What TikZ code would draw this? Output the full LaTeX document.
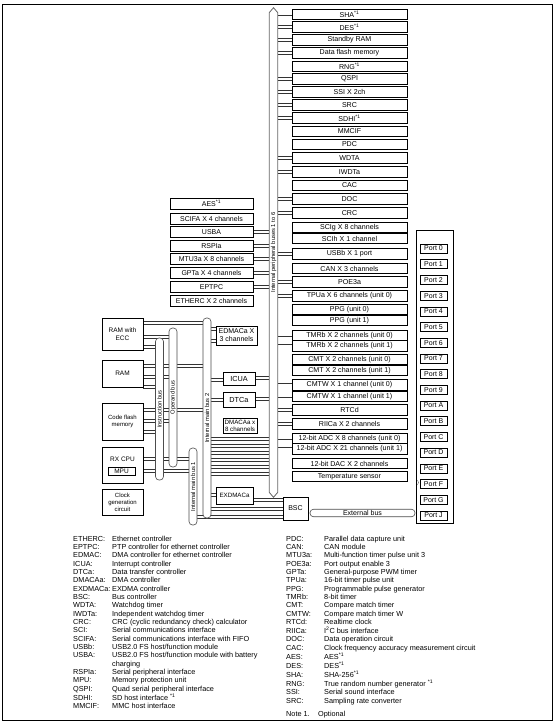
\documentclass[tikz,border=0pt]{standalone}
\usepackage{fontspec}
\setmainfont{Liberation Sans}
\usetikzlibrary{positioning,calc}
\pgfdeclarelayer{background}
\pgfdeclarelayer{busfill}
\pgfsetlayers{background,busfill,main}
\newcommand{\optmark}{\textsuperscript{*1}}

\begin{document}
\begin{tikzpicture}[x=1pt, y=-1pt,
  unit/.style={draw, fill=white, line width=0.6pt, inner sep=0.5pt, minimum width=115pt, minimum height=10.5pt, font=\fontsize{7.1}{8}\selectfont},
  mem/.style={draw, fill=white, line width=0.6pt, inner sep=1pt, align=center, minimum width=41pt, font=\fontsize{6.5}{7.5}\selectfont},
  ctl/.style={draw, fill=white, line width=0.6pt, inner sep=0.5pt, align=center, font=\fontsize{7}{8}\selectfont},
  port/.style={draw, fill=white, line width=0.6pt, inner sep=0pt, minimum width=27pt, minimum height=9pt, font=\fontsize{7}{8}\selectfont},
  bus/.style={draw=black!70, fill=white, line width=0.6pt, rounded corners=3.5pt, minimum width=8pt, inner sep=0pt, font=\fontsize{5.8}{6}\selectfont},
  link/.style={draw=black!80, line width=0.45pt, double=white, double distance=2.2pt},
  tube/.style={link, double distance=5pt, line cap=round},
  legend/.style={inner sep=0pt, anchor=north west, font=\fontsize{7.3}{8.33}\selectfont}]

\useasboundingbox (0,0) rectangle (554,726);
\draw[line width=1pt] (2,4) rectangle (552,720);

% buses
\node[bus, draw=none, fill=none, rounded corners=0pt, minimum height=479pt] (pbus) at (273.5,252.5) {\rotatebox{90}{Internal peripheral buses 1 to 6}};
\begin{pgfonlayer}{busfill}
\filldraw[draw=black!60, fill=white, line width=0.8pt] (pbus.north west) -- ([yshift=5pt]pbus.north) -- (pbus.north east) -- (pbus.south east) -- ([yshift=-5pt]pbus.south) -- (pbus.south west) -- cycle;
\end{pgfonlayer}
\node[bus, minimum height=142pt] (ibus) at (159.5,409) {\rotatebox{90}{Instruction bus}};
\node[bus, minimum height=139pt] (obus) at (173,397.5) {\rotatebox{90}{Operand bus}};
\node[bus, minimum height=200pt] (mbus2) at (207,418) {\rotatebox{90}{Internal main bus 2}};
\node[bus, minimum height=77pt] (mbus1) at (193,486.5) {\rotatebox{90}{Internal main bus 1}};

% memories and CPU
\node[mem, minimum height=32pt] (ramecc) at (122.5,334) {RAM with\\ECC};
\node[mem, minimum height=27pt] (ram) at (122.5,373.5) {RAM};
\node[mem, minimum height=37pt, font=\fontsize{6}{7}\selectfont] (flash) at (122.5,421.5) {Code flash\\memory};
\node[mem, minimum height=36pt] (cpu) at (122.5,465) {RX CPU\\[3pt]\phantom{MPU}};
\node[ctl, minimum width=27pt, minimum height=7.5pt, inner sep=0pt, font=\fontsize{6.5}{7}\selectfont] (mpu) at (121.5,471.5) {MPU};
\node[mem, minimum height=26pt, font=\fontsize{6}{7}\selectfont] (clk) at (122.5,502) {Clock\\generation\\circuit};

% controllers
\node[ctl, minimum width=41pt, minimum height=19pt] (edmac) at (236.5,335.5) {EDMACa X\\3 channels};
\node[ctl, minimum width=32pt, minimum height=13pt, font=\fontsize{7.3}{8}\selectfont] (icua) at (239,378.5) {ICUA};
\node[ctl, minimum width=32pt, minimum height=15pt, font=\fontsize{7.3}{8}\selectfont] (dtc) at (239,399.5) {DTCa};
\node[ctl, minimum width=34pt, minimum height=15pt, font=\fontsize{6.2}{7}\selectfont] (dmac) at (240,425.5) {DMACAa x\\8 channels};
\node[ctl, minimum width=37pt, minimum height=17pt, font=\fontsize{6.2}{7}\selectfont] (exdmac) at (234.5,495.5) {EXDMACa};
\node[ctl, minimum width=25pt, minimum height=23pt] (bsc) at (295.5,508.5) {BSC};

% ports
\node[draw, line width=0.6pt, minimum width=37pt, minimum height=293pt] (ports) at (434.5,376.5) {};
\foreach \i/\lbl in {0/0,1/1,2/2,3/3,4/4,5/5,6/6,7/7,8/8,9/9,10/A,11/B,12/C,13/D,14/E,15/F,16/G,17/J}
  \node[port] (port\lbl) at (433.5,{248.5+15.7*\i}) {Port \lbl};
\node[bus, minimum width=105pt, minimum height=7.5pt, font=\fontsize{7}{7}\selectfont] (ext) at (362.5,513) {External bus};

% peripherals on the right of the peripheral bus
\foreach \nm/\yy/\txt in {sha/14.3/{SHA\optmark}, des/27/{DES\optmark}, sram/40/Standby RAM, dflash/53/Data flash memory,
    rng/66.5/{RNG\optmark}, qspi/79/QSPI, ssi/92/SSI X 2ch, src/105/SRC, sdhi/118/{SDHI\optmark}, mmcif/131.5/MMCIF,
    pdc/144.5/PDC, wdta/158/WDTA, iwdt/172/IWDTa, cac/185.5/CAC, doc/199/DOC, crc/213/CRC,
    scig/227.5/SCIg X 8 channels, scih/238.5/SCIh X 1 channel, usbb/254/USBb X 1 port, can/268.5/CAN X 3 channels,
    poe/282/POE3a, tpu/296/TPUa X 6 channels (unit 0), ppga/309.5/PPG (unit 0), ppgb/320.5/PPG (unit 1),
    tmra/335.25/TMRb X 2 channels (unit 0), tmrb/345.75/TMRb X 2 channels (unit 1),
    cmta/359.5/CMT X 2 channels (unit 0), cmtb/370.5/CMT X 2 channels (unit 1),
    cmtwa/384.75/CMTW X 1 channel (unit 0), cmtwb/396.25/CMTW X 1 channel (unit 1),
    rtc/410/RTCd, riic/424/RIICa X 2 channels, adca/438.25/12-bit ADC X 8 channels (unit 0),
    adcb/448.75/12-bit ADC X 21 channels (unit 1), dac/463.5/12-bit DAC X 2 channels, temp/476.5/Temperature sensor}{
  \node[unit] (\nm) at (349.5,\yy) {\txt};
  \begin{pgfonlayer}{background}
  \draw[link] (pbus.east |- \nm.west) -- (\nm.west);
  \end{pgfonlayer}
}

% peripherals on the left of the peripheral bus
\foreach \nm/\yy/\txt in {aes/203.5/{AES\optmark}, scifa/218.5/SCIFA X 4 channels, usba/232/USBA, rspi/246/RSPIa,
    mtu/259/MTU3a X 8 channels, gpt/273/GPTa X 4 channels, eptpc/287/EPTPC, etherc/300.5/ETHERC X 2 channels}{
  \node[unit, minimum width=83pt, minimum height=11pt, font=\fontsize{7}{8}\selectfont] (\nm) at (211.5,\yy) {\txt};
  \begin{pgfonlayer}{background}
  \draw[link] (\nm.east) -- (\nm.east -| pbus.west);
  \end{pgfonlayer}
}

\begin{pgfonlayer}{background}
\foreach \src/\dst/\yy in {ramecc/mbus2/323, ramecc/obus/337, ramecc/ibus/347, ram/mbus2/366, ram/obus/377, ram/ibus/387,
    flash/mbus2/410, flash/obus/421, flash/ibus/432, cpu/obus/459, cpu/ibus/471, obus/mbus1/459, ibus/mbus1/471,
    mbus2/edmac/329, mbus2/edmac/341, edmac/pbus/335.5, mbus2/icua/380, icua/pbus/378, mbus2/dtc/400, dtc/pbus/399,
    mbus2/dmac/425.5, dmac/pbus/425.5, mbus2/pbus/439, mbus2/pbus/446, mbus2/pbus/453, mbus2/pbus/460,
    mbus2/pbus/467, mbus2/pbus/474, mbus2/exdmac/495, exdmac/bsc/500, mbus2/bsc/509, mbus1/bsc/517}{
  \coordinate (lvl) at (0,\yy);
  \draw[link] (\src.east |- lvl) -- (\dst.west |- lvl);
}
\coordinate (lvl) at (0,482.5);
\draw[tube] (mbus2.east |- lvl) -- (ports.west |- lvl);
\end{pgfonlayer}

% legend
\node[legend] (legleft) at (73,535.2) {\begin{tabular}{@{}p{39pt}@{}l@{}}
ETHERC: & Ethernet controller\\
EPTPC: & PTP controller for ethernet controller\\
EDMAC: & DMA controller for ethernet controller\\
ICUA: & Interrupt controller\\
DTCa: & Data transfer controller\\
DMACAa: & DMA controller\\
EXDMACa: & EXDMA controller\\
BSC: & Bus controller\\
WDTA: & Watchdog timer\\
IWDTa: & Independent watchdog timer\\
CRC: & CRC (cyclic redundancy check) calculator\\
SCI: & Serial communications interface\\
SCIFA: & Serial communications interface with FIFO\\
USBb: & USB2.0 FS host/function module\\
USBA: & USB2.0 FS host/function module with battery\\
 & charging\\
RSPIa: & Serial peripheral interface\\
MPU: & Memory protection unit\\
QSPI: & Quad serial peripheral interface\\
SDHI: & SD host interface \optmark\\
MMCIF: & MMC host interface
\end{tabular}};
\node[legend] (legright) at (286,535.2) {\begin{tabular}{@{}p{38pt}@{}l@{}}
PDC: & Parallel data capture unit\\
CAN: & CAN module\\
MTU3a: & Multi-function timer pulse unit 3\\
POE3a: & Port output enable 3\\
GPTa: & General-purpose PWM timer\\
TPUa: & 16-bit timer pulse unit\\
PPG: & Programmable pulse generator\\
TMRb: & 8-bit timer\\
CMT: & Compare match timer\\
CMTW: & Compare match timer W\\
RTCd: & Realtime clock\\
RIICa: & I\textsuperscript{2}C bus interface\\
DOC: & Data operation circuit\\
CAC: & Clock frequency accuracy measurement circuit\\
AES: & AES\optmark\\
DES: & DES\optmark\\
SHA: & SHA-256\optmark\\
RNG: & True random number generator \optmark\\
SSI: & Serial sound interface\\
SRC: & Sampling rate converter
\end{tabular}};
\node[legend, anchor=base west] (note) at (286,716.6) {Note 1.\hspace{8.5pt}Optional};
\end{tikzpicture}
\end{document}
